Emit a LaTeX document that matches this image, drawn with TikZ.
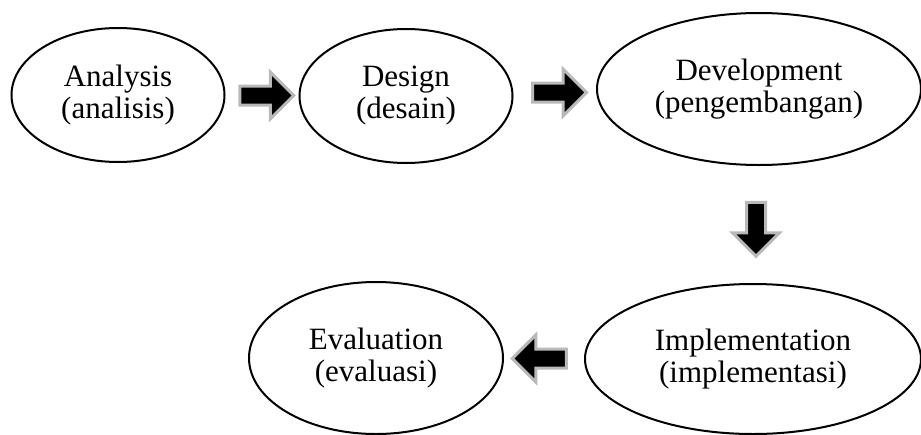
\documentclass[tikz,border=0pt]{standalone}
\usepackage{fontspec}
\setmainfont{Liberation Serif}
\usetikzlibrary{positioning,calc}
\usetikzlibrary{shapes.geometric,shapes.arrows}

\begin{document}
\begin{tikzpicture}[
  x=0.5pt, y=-0.5pt,
  phase/.style={draw,ellipse,line width=1pt,inner sep=0pt,align=center,
    font=\fontsize{15.5}{16}\selectfont},
  blockarrow/.style={single arrow,draw=gray!55,fill=black,line width=1.5pt,
    inner sep=0pt,minimum height=27pt,single arrow head extend=7pt}
  ]

   \useasboundingbox (0,0) rectangle (921,434);

   \node (ana) [phase,minimum width=106.5pt,minimum height=67pt] at (118,95) {Analysis\\(analisis)} ;
   \node (des) [phase,minimum width=106.5pt,minimum height=67pt] at (406,96) {Design\\(desain)} ;
   \node (dev) [phase,minimum width=162pt,minimum height=76pt] at (759,89) {Development\\(pengembangan)} ;
   \node (imp) [phase,minimum width=168pt,minimum height=75pt] at (753,359) {Implementation\\(implementasi)} ;
   \node (eva) [phase,minimum width=127pt,minimum height=76pt] at (376,358) {Evaluation\\(evaluasi)} ;

   \node (a1) [blockarrow] at ($(ana.east)!0.5!(des.west)$) {\rule{0pt}{8pt}} ;
   \node (a2) [blockarrow] at ($(des.east)!0.5!(dev.west)$) {\rule{0pt}{8pt}} ;
   \node (a3) [blockarrow,rotate=-90] at ($(dev.south)!0.5!(imp.north)$) {\rule{0pt}{8pt}} ;
   \node (a4) [blockarrow,rotate=180] at ($(imp.west)!0.5!(eva.east)$) {\rule{0pt}{8pt}} ;

\end{tikzpicture}
\end{document}
